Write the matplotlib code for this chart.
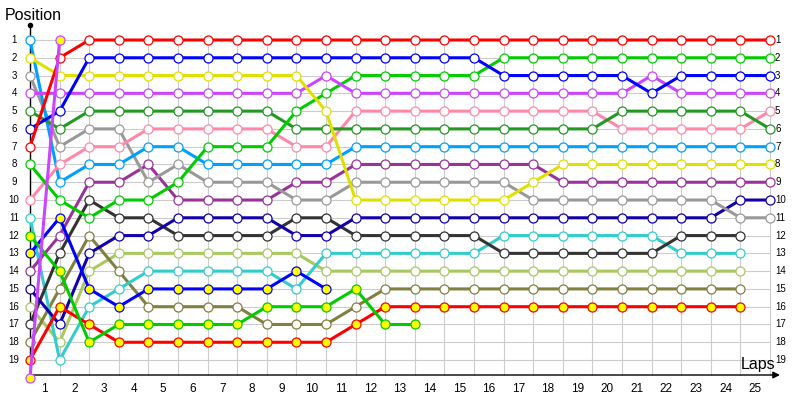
"""
Lap chart: race position of each car per lap
"""

import matplotlib
matplotlib.use('Agg')
import matplotlib.pyplot as plt

plt.rcParams['font.family'] = ['Liberation Sans', 'DejaVu Sans']

laps = list(range(26))
lap_labels = [str(n) for n in range(1, 26)]
positions = list(range(1, 20))

# position per lap (lap 0 = grid), cars that retire have shorter lists
red = [7, 2, 1, 1, 1, 1, 1, 1, 1, 1, 1, 1, 1, 1, 1, 1, 1, 1, 1, 1, 1, 1, 1, 1, 1, 1]
blue = [6, 5, 2, 2, 2, 2, 2, 2, 2, 2, 2, 2, 2, 2, 2, 2, 3, 3, 3, 3, 3, 4, 3, 3, 3, 3]
yellow = [2, 3, 3, 3, 3, 3, 3, 3, 3, 3, 5, 10, 10, 10, 10, 10, 10, 9, 8, 8, 8, 8, 8, 8, 8, 8]
violet = [4, 4, 4, 4, 4, 4, 4, 4, 4, 4, 3, 4, 4, 4, 4, 4, 4, 4, 4, 4, 4, 3, 4, 4, 4, 4]
dark_green = [5, 6, 5, 5, 5, 5, 5, 5, 5, 6, 6, 6, 6, 6, 6, 6, 6, 6, 6, 6, 5, 5, 5, 5, 5, 6]
green = [8, 10, 11, 10, 10, 9, 7, 7, 7, 5, 4, 3, 3, 3, 3, 3, 2, 2, 2, 2, 2, 2, 2, 2, 2, 2]
pink = [10, 8, 7, 7, 6, 6, 6, 6, 6, 7, 7, 5, 5, 5, 5, 5, 5, 5, 5, 5, 6, 6, 6, 6, 6, 5]
gray = [3, 7, 6, 6, 9, 8, 9, 9, 9, 10, 10, 9, 9, 9, 9, 9, 9, 10, 10, 10, 10, 10, 10, 10, 11, 11]
sky = [1, 9, 8, 8, 7, 7, 8, 8, 8, 8, 8, 7, 7, 7, 7, 7, 7, 7, 7, 7, 7, 7, 7, 7, 7, 7]
purple = [14, 12, 9, 9, 8, 10, 10, 10, 10, 9, 9, 8, 8, 8, 8, 8, 8, 8, 9, 9, 9, 9, 9, 9, 9, 9]
navy = [15, 17, 13, 12, 12, 11, 11, 11, 11, 12, 12, 11, 11, 11, 11, 11, 11, 11, 11, 11, 11, 11, 11, 11, 10, 10]
light_olive = [16, 18, 14, 13, 13, 13, 13, 13, 13, 13, 14, 14, 14, 14, 14, 14, 14, 14, 14, 14, 14, 14, 14, 14, 14]
dark_gray = [17, 13, 10, 11, 11, 12, 12, 12, 12, 11, 11, 12, 12, 12, 12, 12, 13, 13, 13, 13, 13, 13, 12, 12, 12]
olive = [18, 15, 12, 14, 16, 16, 16, 16, 17, 17, 17, 16, 15, 15, 15, 15, 15, 15, 15, 15, 15, 15, 15, 15, 15]
cyan = [11, 19, 16, 15, 14, 14, 14, 14, 14, 15, 13, 13, 13, 13, 13, 13, 12, 12, 12, 12, 12, 12, 13, 13, 13]
red_lapped = [19, 16, 17, 18, 18, 18, 18, 18, 18, 18, 18, 17, 16, 16, 16, 16, 16, 16, 16, 16, 16, 16, 16, 16, 16]
blue_lapped = [13, 11, 15, 16, 15, 15, 15, 15, 15, 14, 15]
green_lapped = [12, 14, 18, 17, 17, 17, 17, 17, 16, 16, 16, 15, 17, 17]
violet_lapped = [20, 1]

# (data, line colour, marker fill)
series = [
    (light_olive, '#A8C860', 'white'),
    (olive, '#808040', 'white'),
    (cyan, '#33CCCC', 'white'),
    (dark_gray, '#333333', 'white'),
    (navy, '#1100AA', 'white'),
    (purple, '#993399', 'white'),
    (gray, '#999999', 'white'),
    (sky, '#00A0FF', 'white'),
    (pink, '#FF88AA', 'white'),
    (dark_green, '#229922', 'white'),
    (green, '#00CC00', 'white'),
    (violet, '#CC44FF', 'white'),
    (yellow, '#E0E000', 'white'),
    (blue, '#0000FF', 'white'),
    (red, '#FF0000', 'white'),
    (red_lapped, '#FF0000', '#FFFF00'),
    (blue_lapped, '#0000FF', '#FFFF00'),
    (green_lapped, '#00CC00', '#FFFF00'),
    (violet_lapped, '#CC44FF', '#FFFF00'),
]

W, H = 800, 400
X0, DX = 30, 29.6      # pixel of lap 0 and lap spacing
Y0, DY = 40, 17.78     # pixel of position 1 and row spacing


def px_x(p):
    return (p - X0) / DX


def px_y(p):
    return (p - Y0) / DY + 1


fig = plt.figure(figsize=(8, 4), dpi=100)
ax = fig.add_axes([0, 0, 1, 1])
ax.set_xlim(px_x(0), px_x(W))
ax.set_ylim(px_y(H), px_y(0))
ax.axis('off')

# grid
for p in positions:
    ax.plot([0, laps[-1]], [p, p], color='#CCCCCC', lw=0.8, zorder=1)
for lap in laps[1:]:
    ax.plot([lap, lap], [px_y(35), px_y(375)], color='#CCCCCC', lw=0.8, zorder=1)

# axes
ax.plot([0, 0], [px_y(25), px_y(375)], color='black', lw=1, zorder=2)
ax.plot([0], [px_y(25)], 'o', color='black', ms=3, zorder=2)
ax.annotate('', xy=(px_x(780), px_y(375)), xytext=(0, px_y(375)),
            arrowprops=dict(arrowstyle='-|>', color='black', lw=1,
                            mutation_scale=10, shrinkA=0, shrinkB=0), zorder=2)

for data, color, fill in series:
    ax.plot(laps[:len(data)], data, color=color, lw=2.2, marker='o', ms=6.5,
            mfc=fill, mec=color, mew=0.9, zorder=3)

# labels
for p in positions:
    ax.text(px_x(14), p, str(p), ha='center', va='center', fontsize=7)
    ax.text(px_x(775), p, str(p), ha='left', va='center', fontsize=7)
for lap, lbl in zip(laps[1:], lap_labels):
    ax.text(lap - 0.5, px_y(389), lbl, ha='center', va='center', fontsize=8.5)

fig.text(5 / W, 1 - 15 / H, 'Position', ha='left', va='center', fontsize=11.5)
fig.text(775 / W, 1 - 365 / H, 'Laps', ha='right', va='center', fontsize=11.5)

fig.savefig('out.png', dpi=100)
plt.close(fig)
